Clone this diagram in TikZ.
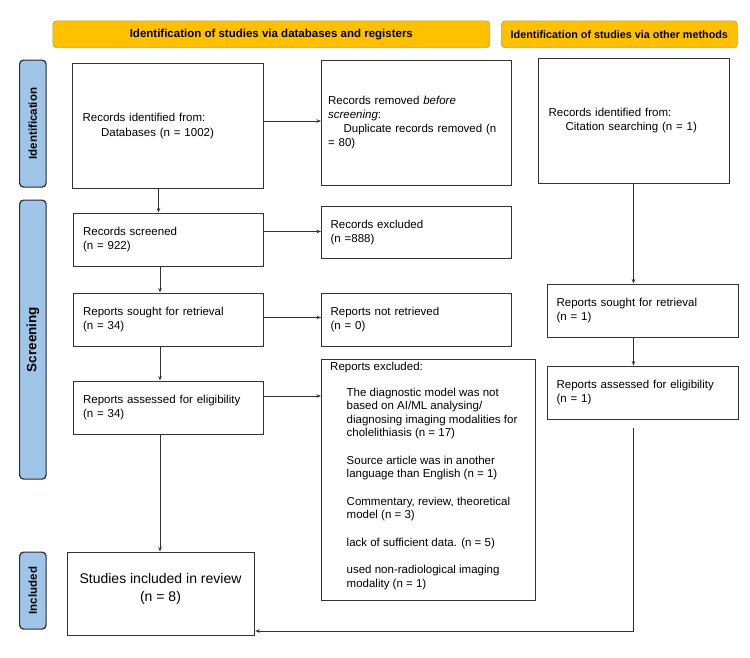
\documentclass[tikz,border=0pt]{standalone}
\usepackage{fontspec}
\setmainfont{Liberation Sans}
\usetikzlibrary{arrows.meta}
\definecolor{hdrfill}{HTML}{FFC000}
\definecolor{hdrdraw}{HTML}{C9A227}
\definecolor{sidefill}{HTML}{9FC5E8}
\definecolor{sidedraw}{HTML}{2B2B2B}
\definecolor{boxdraw}{HTML}{333333}
\tikzset{
  hdr/.style={draw=hdrdraw, fill=hdrfill, rounded corners=4pt, line width=0.7pt, anchor=north west, inner sep=0pt},
  side/.style={draw=sidedraw, fill=sidefill, rounded corners=4pt, line width=1.2pt, anchor=north west, inner sep=0pt},
  sidetxt/.style={rotate=90, inner sep=0pt, font=\fontsize{11.5}{13}\selectfont\bfseries},
  box/.style={draw=boxdraw, line width=1.2pt, anchor=north west, inner xsep=10pt, inner ysep=0pt, align=left, font=\fontsize{11.5}{14}\selectfont},
  conn/.style={draw=boxdraw, line width=0.7pt, -{Stealth[length=4.5pt,width=3.5pt]}}
}
\begin{document}
\begin{tikzpicture}[x=1pt,y=-1pt]
\useasboundingbox (0,0) rectangle (750,657);
% headers
\node[hdr, minimum width=437, minimum height=27] (h1) at (52.5,20.5) {};
\node[font=\fontsize{11.5}{13}\selectfont\bfseries] at (h1.center) {Identification of studies via databases and registers};
\node[hdr, minimum width=236, minimum height=27] (h2) at (501,20.5) {};
\node[font=\fontsize{10.8}{13}\selectfont\bfseries] at (h2.center) {Identification of studies via other methods};
% side labels
\node[side, minimum width=26.5, minimum height=127] (s1) at (19,59.5) {};
\node[sidetxt] at (s1.center) {Identification};
\node[side, minimum width=26.5, minimum height=279] (s2) at (19,199.5) {};
\node[sidetxt, font=\fontsize{13.5}{15}\selectfont\bfseries] at (s2.center) {Screening};
\node[side, minimum width=26.5, minimum height=77] (s3) at (19,551.5) {};
\node[sidetxt] at (s3.center) {Included};
% boxes
\node[box, minimum width=191, minimum height=125, text width=171, font=\fontsize{11.5}{15}\selectfont] (db) at (72,62.5)
  {Records identified from:\\\hspace*{18.5pt}Databases (n = 1002)};
\node[box, inner xsep=6.5pt, minimum width=190, minimum height=125, text width=177] (rem) at (321,59.5)
  {Records removed \textit{before}\\\textit{screening}:\\\hspace*{15.5pt}Duplicate records removed (n\\= 80)};
\node[box, minimum width=191, minimum height=125, text width=171] (cit) at (538,57.5)
  {Records identified from:\\\hspace*{17pt}Citation searching (n = 1)};
\node[box, minimum width=190, minimum height=53, text width=170] (scr) at (72.5,212.5)
  {Records screened\\(n = 922)};
\node[box, inner xsep=9pt, minimum width=190, minimum height=52, text width=172] (exc) at (321,206)
  {Records excluded\\(n =888)};
\node[box, minimum width=190, minimum height=53, text width=170] (sought) at (72.5,292.5)
  {Reports sought for retrieval\\(n = 34)};
\node[box, inner xsep=9pt, minimum width=190, minimum height=53, text width=172] (notret) at (321,292.5)
  {Reports not retrieved\\(n = 0)};
\node[box, inner xsep=9pt, minimum width=191, minimum height=53, text width=173] (sought2) at (547,283.5)
  {Reports sought for retrieval\\(n = 1)};
\node[box, minimum width=190, minimum height=53.5, text width=170] (ass) at (72.5,380.5)
  {Reports assessed for eligibility\\(n = 34)};
\node[box, inner xsep=9pt, minimum width=191, minimum height=53, text width=173] (ass2) at (547,365.5)
  {Reports assessed for eligibility\\(n = 1)};
\node[draw=boxdraw, line width=1.2pt, anchor=north west, minimum width=214, minimum height=241, inner sep=0pt] (rexc) at (321,359) {};
\node[anchor=north west, align=left, inner sep=0pt, font=\fontsize{11.5}{13.3}\selectfont] (rexct) at (330,361.5)
  {Reports excluded:\\[13.3pt]
   \hspace*{16.5pt}The diagnostic model was not\\
   \hspace*{16.5pt}based on AI/ML analysing/\\
   \hspace*{16.5pt}diagnosing imaging modalities for\\
   \hspace*{16.5pt}cholelithiasis (n = 17)\\[14.4pt]
   \hspace*{16.5pt}Source article was in another\\
   \hspace*{16.5pt}language than English (n = 1)\\[14.4pt]
   \hspace*{16.5pt}Commentary, review, theoretical\\
   \hspace*{16.5pt}model (n = 3)\\[14.4pt]
   \hspace*{16.5pt}lack of sufficient data. (n = 5)\\[14.4pt]
   \hspace*{16.5pt}used non-radiological imaging\\
   \hspace*{16.5pt}modality (n = 1)};
\node[draw=boxdraw, line width=1.2pt, anchor=north west, minimum width=187, minimum height=83.5, inner sep=0pt] (inc) at (67,551.5) {};
\node[anchor=north, align=center, inner sep=0pt, font=\fontsize{14}{18.3}\selectfont] (inct) at (160.5,573) {Studies included in review\\(n = 8)};
% connectors
\coordinate (dbx) at (158.5,0);
\draw[conn] (db.south -| dbx) -- (scr.north -| dbx);
\coordinate (r1) at (0,121);
\draw[conn] (db.east |- r1) -- (rem.west |- r1);
\coordinate (r2) at (0,231.5);
\draw[conn] (scr.east |- r2) -- (exc.west |- r2);
\coordinate (cx) at (160,0);
\draw[conn] (scr.south -| cx) -- (sought.north -| cx);
\coordinate (r3) at (0,317.5);
\draw[conn] (sought.east |- r3) -- (notret.west |- r3);
\draw[conn] (sought.south -| cx) -- (ass.north -| cx);
\coordinate (r4) at (0,396);
\draw[conn] (ass.east |- r4) -- (rexc.west |- r4);
\draw[conn] (ass.south -| cx) -- (inc.north -| cx);
\coordinate (rx) at (633.5,0);
\draw[conn] (cit.south -| rx) -- (sought2.north -| rx);
\draw[conn] (sought2.south -| rx) -- (ass2.north -| rx);
\coordinate (gapstart) at (633.5,428);
\coordinate (corner) at (633.5,631);
\draw[conn] (gapstart) -- (corner) -- (inc.east |- corner);
\end{tikzpicture}
\end{document}
